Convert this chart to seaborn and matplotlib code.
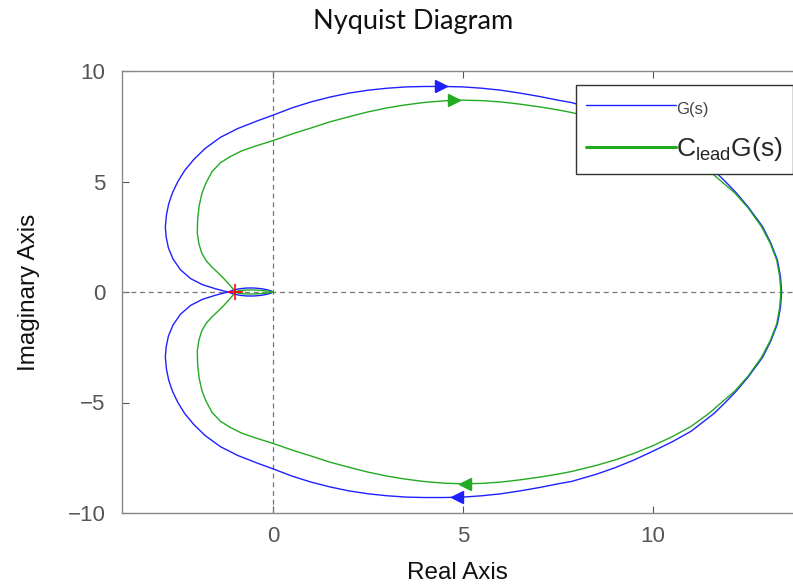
import matplotlib
matplotlib.use("Agg")
import matplotlib.pyplot as plt
import seaborn as sns
import pandas as pd
from matplotlib.lines import Line2D

# ---- data ----
# G(s): upper half, traced from the origin through the small loop, round the left bend,
# over the top, to the rightmost point on the real axis
g_up_x = [0.0, -0.05, -0.15, -0.3, -0.5, -0.7, -0.9, -1.05, -1.18, -1.52, -1.85, -2.16, -2.43,
          -2.63, -2.75, -2.81, -2.83, -2.8, -2.74, -2.64, -2.5, -2.32, -2.08, -1.78, -1.38,
          -0.92, -0.4, 0.0, 0.5, 1.0, 1.5, 2.0, 2.5, 3.0, 3.5, 4.0, 4.5, 5.0, 5.5, 6.0, 6.5,
          7.0, 7.5, 7.86, 8.5, 9.0, 9.5, 10.0, 10.5, 11.0, 11.6, 11.9, 12.19, 12.5, 12.88,
          13.1, 13.27, 13.35, 13.38]
g_up_y = [0.0, -0.05, -0.1, -0.15, -0.18, -0.18, -0.14, -0.08, 0.0, 0.15, 0.33, 0.6, 1.0,
          1.5, 2.0, 2.5, 2.95, 3.5, 4.0, 4.5, 5.0, 5.5, 6.0, 6.5, 7.0,
          7.4, 7.75, 8.0, 8.33, 8.6, 8.82, 9.0, 9.13, 9.22, 9.28, 9.3, 9.3, 9.28, 9.22, 9.13, 9.0,
          8.85, 8.68, 8.57, 8.25, 7.95, 7.6, 7.2, 6.78, 6.3, 5.5, 5.0, 4.48, 3.85, 2.96,
          2.2, 1.45, 0.7, 0.0]
# G(s): lower half, same order
g_lo_x = [0.0, -0.05, -0.15, -0.3, -0.5, -0.7, -0.9, -1.05, -1.18, -1.52, -1.85, -2.16, -2.43,
          -2.63, -2.75, -2.81, -2.83, -2.8, -2.74, -2.64, -2.5, -2.32, -2.08, -1.78, -1.38,
          -0.92, -0.4, 0.0, 0.5, 1.0, 1.5, 2.0, 2.5, 3.0, 3.5, 4.0, 4.5, 5.0, 5.5, 6.0, 6.5,
          7.0, 7.5, 7.86, 8.5, 9.0, 9.5, 10.0, 10.5, 11.0, 11.6, 11.9, 12.19, 12.5, 12.88,
          13.1, 13.27, 13.35, 13.38]
g_lo_y = [0.0, 0.05, 0.1, 0.15, 0.18, 0.18, 0.14, 0.08, 0.0, -0.15, -0.33, -0.6, -1.0,
          -1.5, -2.0, -2.5, -2.95, -3.5, -4.0, -4.5, -5.0, -5.5, -6.0, -6.5, -7.0,
          -7.4, -7.75, -8.0, -8.33, -8.6, -8.82, -9.0, -9.13, -9.22, -9.28, -9.3, -9.3, -9.28, -9.22, -9.13, -9.0,
          -8.85, -8.68, -8.57, -8.25, -7.95, -7.6, -7.2, -6.78, -6.3, -5.5, -5.0, -4.48, -3.85, -2.96,
          -2.2, -1.45, -0.7, 0.0]

# C_lead G(s): upper half
c_up_x = [0.0, -0.12, -0.3, -0.5, -0.7, -0.9, -0.98, -1.0, -1.07, -1.17, -1.3, -1.45, -1.6,
          -1.75, -1.87, -1.95, -1.99, -1.98, -1.94, -1.87, -1.76, -1.6, -1.38, -1.13, -0.83,
          -0.5, 0.0, 0.5, 1.0, 1.5, 2.0, 2.5, 3.0, 3.5, 4.0, 4.5, 5.0, 5.5, 6.0, 6.5, 7.0,
          7.5, 7.86, 8.5, 9.0, 9.5, 10.0, 10.5, 11.0, 11.47, 11.8, 12.15, 12.5, 12.85,
          13.08, 13.25, 13.33, 13.36]
c_up_y = [0.0, -0.04, -0.07, -0.09, -0.09, -0.06, 0.0, 0.05, 0.18, 0.38, 0.62, 0.88, 1.12,
          1.4, 1.75, 2.2, 2.68, 3.3, 3.9, 4.45, 4.94, 5.45, 5.85, 6.12, 6.38,
          6.58, 6.85, 7.15, 7.42, 7.7, 7.93, 8.15, 8.33, 8.47, 8.58, 8.65, 8.68, 8.66, 8.6, 8.5, 8.38,
          8.24, 8.12, 7.85, 7.6, 7.3, 6.95, 6.55, 6.08, 5.49, 5.0, 4.48, 3.8, 2.96,
          2.2, 1.45, 0.7, 0.0]
# C_lead G(s): lower half
c_lo_x = [0.0, -0.12, -0.3, -0.5, -0.7, -0.9, -0.98, -1.0, -1.07, -1.17, -1.3, -1.45, -1.6,
          -1.75, -1.87, -1.95, -1.99, -1.98, -1.94, -1.87, -1.76, -1.6, -1.38, -1.13, -0.83,
          -0.5, 0.0, 0.5, 1.0, 1.5, 2.0, 2.5, 3.0, 3.5, 4.0, 4.5, 5.0, 5.5, 6.0, 6.5, 7.0,
          7.5, 7.86, 8.5, 9.0, 9.5, 10.0, 10.5, 11.0, 11.47, 11.8, 12.15, 12.5, 12.85,
          13.08, 13.25, 13.33, 13.36]
c_lo_y = [0.0, 0.04, 0.07, 0.09, 0.09, 0.06, 0.0, -0.05, -0.18, -0.38, -0.62, -0.88, -1.12,
          -1.4, -1.75, -2.2, -2.68, -3.3, -3.9, -4.45, -4.94, -5.45, -5.85, -6.12, -6.38,
          -6.58, -6.85, -7.15, -7.42, -7.7, -7.93, -8.15, -8.33, -8.47, -8.58, -8.65, -8.68, -8.66, -8.6, -8.5, -8.38,
          -8.24, -8.12, -7.85, -7.6, -7.3, -6.95, -6.55, -6.08, -5.49, -5.0, -4.48, -3.8, -2.96,
          -2.2, -1.45, -0.7, 0.0]

# direction arrows
g_arrow_x = [4.43, 4.83]
g_arrow_y = [9.3, -9.28]
c_arrow_x = [4.75, 5.05]
c_arrow_y = [8.67, -8.68]
arrow_dirs = [">", "<"]

critical_x = [-1.0]
critical_y = [0.0]

x_ticks = [0, 5, 10]
y_ticks = [-10, -5, 0, 5, 10]

legend_labels = ["G(s)", r"$\mathregular{C_{lead}G(s)}$"]

BLUE = "#2020ff"
GREEN = "#22aa22"
GRAY = "#555555"

sns.set_style("white")
plt.rcParams["font.family"] = ["Liberation Sans", "DejaVu Sans"]

fig = plt.figure(figsize=(7.93, 5.84), dpi=100)
ax = fig.add_axes([122 / 793, 71 / 584, 671 / 793, 442 / 584])

def closed(ux, uy, lx, ly, name):
    xs = list(ux) + list(lx)[::-1]
    ys = list(uy) + list(ly)[::-1]
    return pd.DataFrame({"x": xs, "y": ys, "order": range(len(xs)), "curve": name})

df_g = closed(g_up_x, g_up_y, g_lo_x, g_lo_y, "G")
df_c = closed(c_up_x, c_up_y, c_lo_x, c_lo_y, "C")

ax.axhline(0, color="#777777", lw=0.9, dashes=(4, 3), zorder=1)
ax.axvline(0, color="#777777", lw=0.9, dashes=(4, 3), zorder=1)

sns.lineplot(data=df_g, x="x", y="y", sort=False, estimator=None, color=BLUE, lw=1.0, ax=ax, zorder=3)
sns.lineplot(data=df_c, x="x", y="y", sort=False, estimator=None, color=GREEN, lw=1.0, ax=ax, zorder=3)

for x, y, m in zip(g_arrow_x, g_arrow_y, arrow_dirs):
    ax.plot([x], [y], marker=m, color=BLUE, markersize=9, zorder=4)
for x, y, m in zip(c_arrow_x, c_arrow_y, arrow_dirs):
    ax.plot([x], [y], marker=m, color=GREEN, markersize=9, zorder=4)

ax.plot(critical_x, critical_y, marker="+", color="red", markersize=12, mew=1.2, ls="none", zorder=5)

ax.set_xlim(-3.97, 13.68)
ax.set_ylim(-10, 10)
ax.set_xticks(x_ticks)
ax.set_yticks(y_ticks)
ax.set_xticklabels([str(t) for t in x_ticks])
ax.set_yticklabels([str(t).replace("-", "\u2212") for t in y_ticks])
ax.tick_params(direction="in", length=5, width=0.8, colors=GRAY, labelsize=16,
               top=True, bottom=True, left=True, right=False)
ax.tick_params(axis="x", pad=9)
ax.tick_params(axis="y", pad=12)
for s in ["left", "top", "bottom"]:
    ax.spines[s].set_color("#888888")
    ax.spines[s].set_linewidth(1.0)
ax.spines["right"].set_visible(False)

ax.set_xlabel("Real Axis", fontsize=17.5, color="#111111", labelpad=11)
ax.set_ylabel("Imaginary Axis", fontsize=17.5, color="#111111", labelpad=20)
fig.text(413 / 793, 1 - 21 / 584, "Nyquist Diagram", ha="center", va="center",
         fontsize=19.5, family=["Lato", "DejaVu Sans"], color="#111111")

handles = [Line2D([0], [0], color=BLUE, lw=1.0), Line2D([0], [0], color=GREEN, lw=2.2)]
leg = ax.legend(handles, legend_labels, loc="upper right", bbox_to_anchor=(1.0, 0.968),
                fontsize=19, handlelength=3.4, handletextpad=0.0, borderpad=0.4,
                labelspacing=0.68, frameon=True, fancybox=False, framealpha=1,
                borderaxespad=0)
leg.get_frame().set_edgecolor("#333333")
leg.get_frame().set_linewidth(1.0)
t0 = leg.get_texts()[0]
t0.set_fontsize(12)
t0.set_color("#444444")

fig.savefig("out.png", dpi=100)
